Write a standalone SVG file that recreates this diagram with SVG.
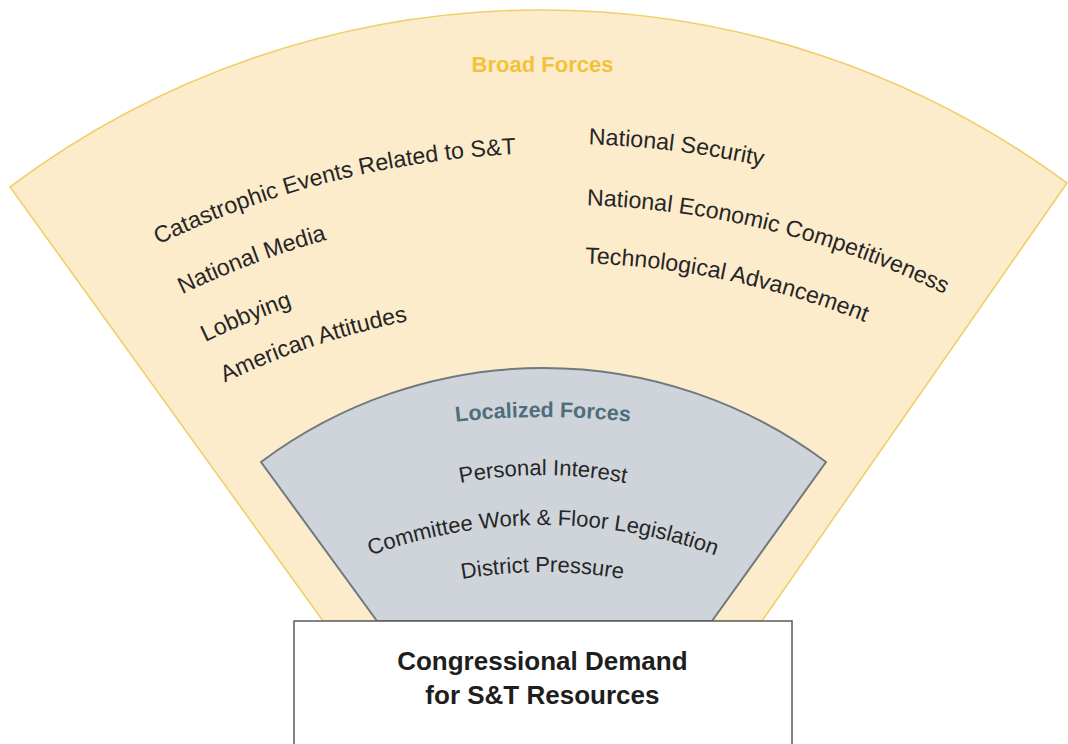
<svg xmlns="http://www.w3.org/2000/svg" width="1068" height="744" viewBox="0 0 1068 744">
<style>
.item{font-family:"Liberation Sans",Arial,sans-serif;font-size:23.2px;fill:#262626}
.inner{font-family:"Liberation Sans",Arial,sans-serif;font-size:22px;fill:#262626}
.title-broad{font-family:"Liberation Sans",Arial,sans-serif;font-size:22px;font-weight:bold;fill:#f2c23a}
.title-local{font-family:"Liberation Sans",Arial,sans-serif;font-size:21.5px;font-weight:bold;fill:#4f6e7c}
.box-text{font-family:"Liberation Sans",Arial,sans-serif;font-size:26px;font-weight:bold;fill:#1e1e1e}
</style>
<defs>
<path id="p-cat" d="M158.4,244.6 A926,926 0 0 1 720.8,167.1"/>
<path id="p-nm" d="M182.3,294.2 A871,871 0 0 1 711.2,221.2"/>
<path id="p-lob" d="M205.3,341.9 A818,818 0 0 1 702.0,273.4"/>
<path id="p-aa" d="M224.8,382.5 A773,773 0 0 1 694.2,317.7"/>
<path id="p-ns" d="M588.6,144.4 A935,935 0 0 1 1161.0,362.8"/>
<path id="p-nec" d="M586.7,205.4 A874,874 0 0 1 1121.8,409.5"/>
<path id="p-tech" d="M584.9,263.4 A816,816 0 0 1 1084.5,453.9"/>
<path id="p-loc" d="M335.9,444.3 A800,800 0 0 1 750.1,444.3"/>
<path id="p-pi" d="M398,500.6 A424,424 0 0 1 688,500.6"/>
<path id="p-cw" d="M292,592.3 A502,502 0 0 1 794,592.3"/>
<path id="p-dp" d="M386.2,599.6 A457,457 0 0 1 698.8,599.6"/>
</defs>
<rect width="1068" height="744" fill="#ffffff"/>
<g id="broad-forces">
<path d="M10,187 A885.5,885.5 0 0 1 1067,183 L762,621 L323,621 Z" fill="#fdeccc" stroke="#f0cf6a" stroke-width="1.6" stroke-linejoin="miter"/>
<text class="title-broad" x="542.5" y="72" text-anchor="middle">Broad Forces</text>
<text class="item"><textPath href="#p-cat">Catastrophic Events Related to S&amp;T</textPath></text>
<text class="item"><textPath href="#p-nm">National Media</textPath></text>
<text class="item"><textPath href="#p-lob">Lobbying</textPath></text>
<text class="item"><textPath href="#p-aa">American Attitudes</textPath></text>
<text class="item"><textPath href="#p-ns">National Security</textPath></text>
<text class="item"><textPath href="#p-nec">National Economic Competitiveness</textPath></text>
<text class="item"><textPath href="#p-tech">Technological Advancement</textPath></text>
</g>
<g id="localized-forces">
<path d="M261,462 A471.5,471.5 0 0 1 826,462 L712,621 L377,621 Z" fill="#ced4da" stroke="#6f7a7e" stroke-width="2"/>
<text class="title-local" text-anchor="middle"><textPath href="#p-loc" startOffset="50%">Localized Forces</textPath></text>
<text class="inner" text-anchor="middle"><textPath href="#p-pi" startOffset="50%">Personal Interest</textPath></text>
<text class="inner" text-anchor="middle"><textPath href="#p-cw" startOffset="50%">Committee Work &amp; Floor Legislation</textPath></text>
<text class="inner" text-anchor="middle"><textPath href="#p-dp" startOffset="50%">District Pressure</textPath></text>
</g>
<g id="demand-box">
<rect x="294" y="621" width="498" height="140" fill="#ffffff" stroke="#5a5a5a" stroke-width="1.5"/>
<text class="box-text" x="542.4" y="670" text-anchor="middle">Congressional Demand</text>
<text class="box-text" x="542.4" y="704" text-anchor="middle">for S&amp;T Resources</text>
</g>
<g id="connectors"/>
</svg>
